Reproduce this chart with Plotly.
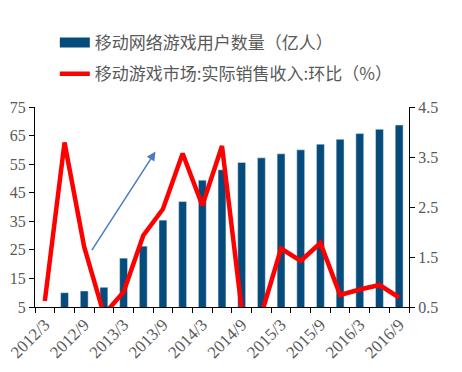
import plotly.graph_objects as go

quarters = ["2012/3", "2012/6", "2012/9", "2012/12",
            "2013/3", "2013/6", "2013/9", "2013/12",
            "2014/3", "2014/6", "2014/9", "2014/12",
            "2015/3", "2015/6", "2015/9", "2015/12",
            "2016/3", "2016/6", "2016/9"]
users = [None, 10.0, 10.6, 11.9, 22.1, 26.3, 35.4, 41.9, 49.4, 53.0,
         55.6, 57.2, 58.6, 60.0, 62.0, 63.7, 65.7, 67.2, 68.7]
qoq = [0.62, 3.79, 1.70, 0.35, 0.80, 1.93, 2.46, 3.57, 2.53, 3.72,
       0.45, 0.35, 1.67, 1.42, 1.78, 0.74, 0.85, 0.94, 0.69]
tick_labels = [q if i % 2 == 0 else "" for i, q in enumerate(quarters)]

bar_name = "移动网络游戏用户数量（亿人）"
line_name = "移动游戏市场:实际销售收入:环比（%）"

BLUE = "#054b7c"
RED = "#ff0000"
GRAY = "#595959"
tick_font = dict(family="Liberation Serif", size=16, color=GRAY)
xtick_font = dict(family="Liberation Serif", size=17, color=GRAY)

fig = go.Figure()
fig.add_trace(go.Bar(x=quarters, y=users, name=bar_name, marker_color=BLUE,
                     legendgroup="a", showlegend=False, yaxis="y"))
# legend key for the bar series (wide rectangle like the original)
fig.add_trace(go.Scatter(x=[None], y=[None], name=bar_name, mode="lines",
                         line=dict(color=BLUE, width=10), legendgroup="a",
                         hoverinfo="skip"))
fig.add_trace(go.Scatter(x=quarters, y=qoq, name=line_name, mode="lines",
                         line=dict(color=RED, width=4.5), legendgroup="b",
                         yaxis="y2"))

fig.add_annotation(x=5.62, y=59.4, ax=2.34, ay=24.4, xref="x", yref="y",
                   axref="x", ayref="y", text="", showarrow=True,
                   arrowhead=2, arrowsize=1.2, arrowwidth=1.5,
                   arrowcolor="#4a7bc0")

# the page body adds an 8px offset, so the figure is 8px smaller
fig.update_layout(
    width=454, height=364,
    margin=dict(l=27, r=53, t=99, b=65, autoexpand=False),
    paper_bgcolor="white", plot_bgcolor="white",
    bargap=0.6,
    showlegend=True,
    legend=dict(x=0.053, y=1.41, xanchor="left", yanchor="top",
                orientation="v", tracegroupgap=6,
                font=dict(family="Noto Sans CJK SC", size=17, color=GRAY),
                bgcolor="rgba(0,0,0,0)"),
    xaxis=dict(type="category", range=[-0.5, 18.5], automargin=False,
               tickmode="array", tickvals=quarters, ticktext=tick_labels,
               tickson="boundaries", ticks="outside", ticklen=5,
               tickcolor="black", showline=True, linecolor="black",
               linewidth=1, tickangle=-45, tickfont=xtick_font,
               showgrid=False, zeroline=False),
    yaxis=dict(range=[5, 75], dtick=10, tick0=5, ticks="outside", ticklen=5,
               tickcolor="black", showline=True, linecolor="black",
               linewidth=1, tickfont=tick_font, showgrid=False,
               zeroline=False, automargin=False),
    yaxis2=dict(range=[0.5, 4.5], dtick=1, tick0=0.5, overlaying="y",
                side="right", ticks="outside", ticklen=5, tickcolor="black",
                showline=True, linecolor="black", linewidth=1,
                tickfont=tick_font, tickformat=".1f", showgrid=False,
                zeroline=False, automargin=False),
)

fig.write_html("out.html")
